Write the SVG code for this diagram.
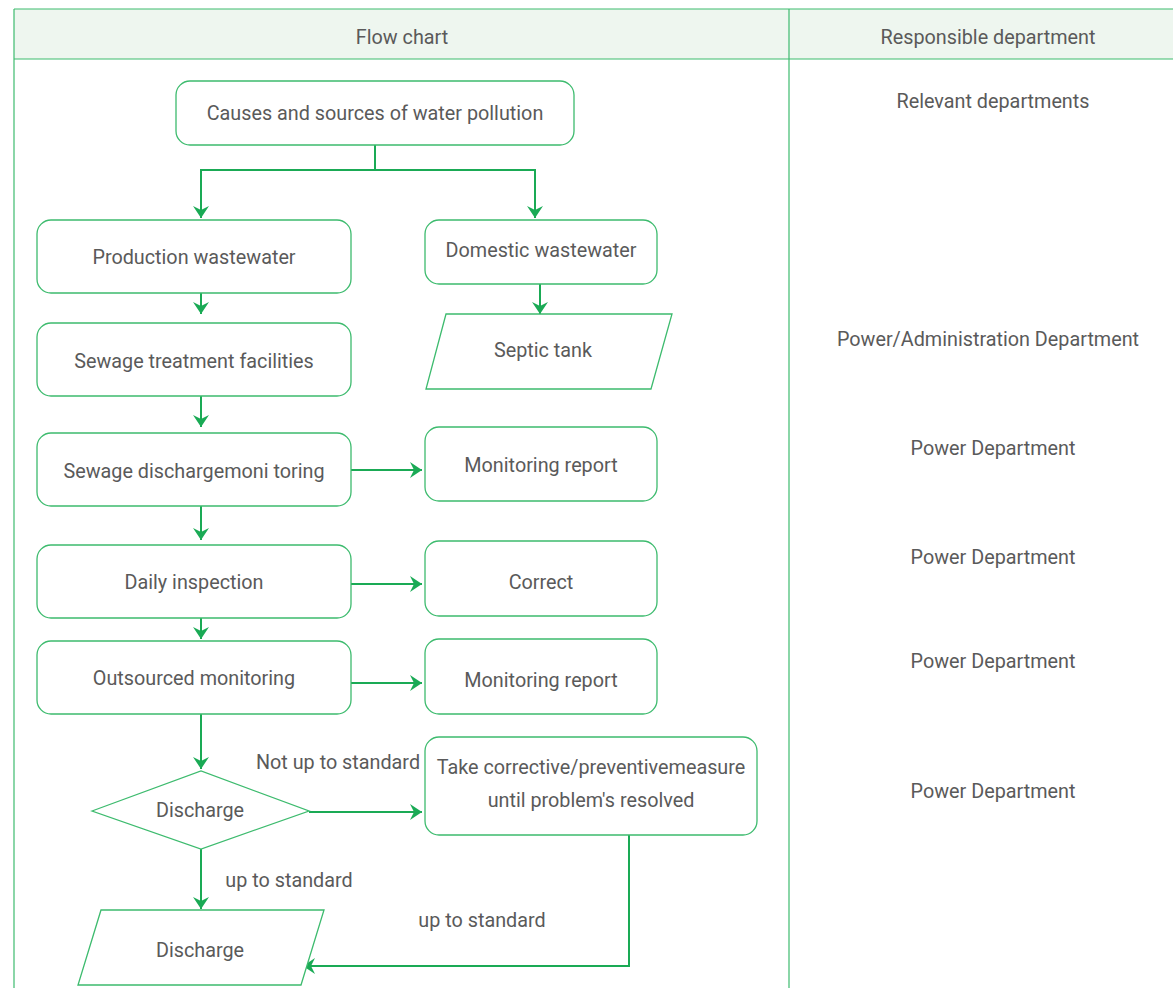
<svg xmlns="http://www.w3.org/2000/svg" width="1173" height="988" viewBox="0 0 1173 988">
  <defs>
    <marker id="arrow" viewBox="0 0 12 16" refX="12" refY="8" markerWidth="12" markerHeight="16" markerUnits="userSpaceOnUse" orient="auto">
      <path d="M0,0 L12,8 L0,16 L4,8 Z" fill="#1aaa55"/>
    </marker>
    <style>
      .grid { stroke: #3dbb6e; stroke-width: 1.2; fill: none; }
      .box { fill: #ffffff; stroke: #3dbb6e; stroke-width: 1.3; }
      .edge { fill: none; stroke: #1aaa55; stroke-width: 2; }
      .arr { marker-end: url(#arrow); }
      text { font-family: Roboto, "Liberation Sans", sans-serif; font-size: 19.8px; fill: #5a5a5a; text-anchor: middle; dominant-baseline: central; }
    </style>
  </defs>

  <rect width="1173" height="988" fill="#ffffff"/>

  <!-- table frame and header -->
  <g id="table">
    <rect x="14" y="9" width="1159" height="50" fill="#eef6ef"/>
    <line class="grid" x1="14" y1="9" x2="1173" y2="9"/>
    <line class="grid" x1="14" y1="59" x2="1173" y2="59"/>
    <line class="grid" x1="14" y1="9" x2="14" y2="988"/>
    <line class="grid" x1="789" y1="9" x2="789" y2="988"/>
    <text x="402" y="37">Flow chart</text>
    <text x="988" y="37">Responsible department</text>
  </g>

  <!-- responsible departments -->
  <g id="departments">
    <text x="993" y="101">Relevant departments</text>
    <text x="988" y="339">Power/Administration Department</text>
    <text x="993" y="448">Power Department</text>
    <text x="993" y="557">Power Department</text>
    <text x="993" y="661">Power Department</text>
    <text x="993" y="791">Power Department</text>
  </g>

  <!-- connectors -->
  <g id="connectors">
    <path class="edge" d="M375,145 V170 H201 V217"/>
    <path class="edge arr" d="M375,170 H535 V218"/>
    <path class="edge arr" d="M201,170 V218"/>
    <path class="edge arr" d="M201,284 V314"/>
    <path class="edge arr" d="M540,284 V314"/>
    <path class="edge arr" d="M201,388 V427"/>
    <path class="edge arr" d="M201,501 V540"/>
    <path class="edge arr" d="M201,616 V639"/>
    <path class="edge arr" d="M201,714 V769"/>
    <path class="edge arr" d="M351,470 H422"/>
    <path class="edge arr" d="M351,584 H422"/>
    <path class="edge arr" d="M351,683 H422"/>
    <path class="edge arr" d="M309,812 H422"/>
    <path class="edge arr" d="M201,849 V909"/>
    <path class="edge arr" d="M629,835 V966 H303"/>
    <text x="338" y="762">Not up to standard</text>
    <text x="289" y="880">up to standard</text>
    <text x="482" y="920">up to standard</text>
  </g>

  <!-- process steps -->
  <g id="n-causes">
    <rect class="box" x="176" y="81" width="398" height="64" rx="14"/>
    <text x="375" y="113">Causes and sources of water pollution</text>
  </g>
  <g id="n-production">
    <rect class="box" x="37" y="220" width="314" height="73" rx="14"/>
    <text x="194" y="257">Production wastewater</text>
  </g>
  <g id="n-domestic">
    <rect class="box" x="425" y="220" width="232" height="64" rx="14"/>
    <text x="541" y="250">Domestic wastewater</text>
  </g>
  <g id="n-septic">
    <polygon class="box" points="446,314 672,314 651,389 426,389"/>
    <text x="543" y="350">Septic tank</text>
  </g>
  <g id="n-treatment">
    <rect class="box" x="37" y="323" width="314" height="73" rx="14"/>
    <text x="194" y="361">Sewage treatment facilities</text>
  </g>
  <g id="n-monitoring">
    <rect class="box" x="37" y="433" width="314" height="73" rx="14"/>
    <text x="194" y="471">Sewage dischargemoni toring</text>
  </g>
  <g id="n-report1">
    <rect class="box" x="425" y="427" width="232" height="74" rx="14"/>
    <text x="541" y="465">Monitoring report</text>
  </g>
  <g id="n-daily">
    <rect class="box" x="37" y="545" width="314" height="73" rx="14"/>
    <text x="194" y="582">Daily inspection</text>
  </g>
  <g id="n-correct">
    <rect class="box" x="425" y="541" width="232" height="75" rx="14"/>
    <text x="541" y="582">Correct</text>
  </g>
  <g id="n-outsourced">
    <rect class="box" x="37" y="641" width="314" height="73" rx="14"/>
    <text x="194" y="678">Outsourced monitoring</text>
  </g>
  <g id="n-report2">
    <rect class="box" x="425" y="639" width="232" height="75" rx="14"/>
    <text x="541" y="680">Monitoring report</text>
  </g>
  <g id="n-decision">
    <polygon class="box" points="92,811 201,771 309,811 201,849"/>
    <text x="200" y="810">Discharge</text>
  </g>
  <g id="n-measure">
    <rect class="box" x="425" y="737" width="332" height="98" rx="14"/>
    <text x="591" y="767">Take corrective/preventivemeasure</text>
    <text x="591" y="800">until problem's resolved</text>
  </g>
  <g id="n-discharge">
    <polygon class="box" points="101,910 324,910 301,985 78,985"/>
    <text x="200" y="950">Discharge</text>
  </g>
</svg>
